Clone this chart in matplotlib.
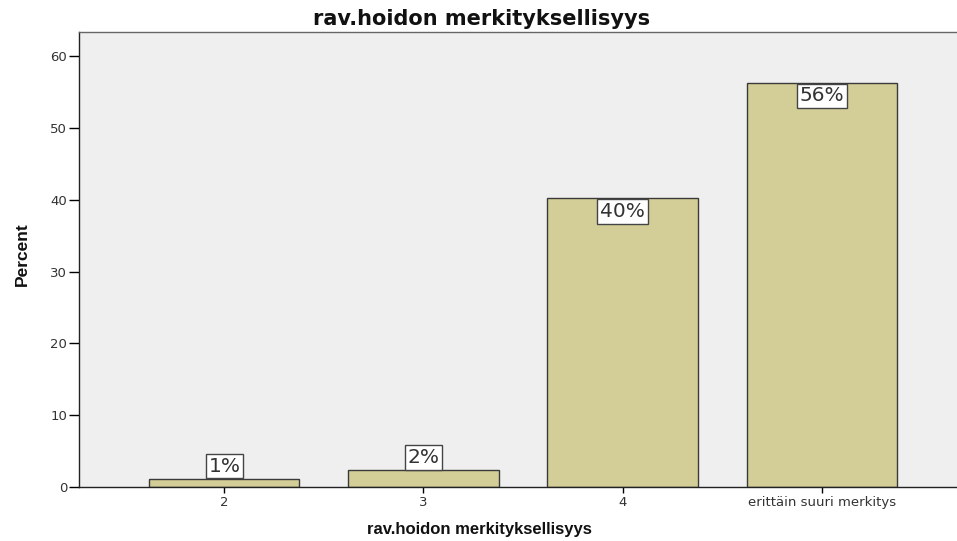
#!/usr/bin/env python3
import matplotlib

matplotlib.use("Agg")
import matplotlib.pyplot as plt
import numpy as np

CATEGORIES = ["2", "3", "4", "erittäin suuri merkitys"]
PERCENTS = [1.1, 2.3, 40.2, 56.3]
LABELS = ["1%", "2%", "40%", "56%"]

TITLE = "rav.hoidon merkityksellisyys"
X_LABEL = "rav.hoidon merkityksellisyys"
Y_LABEL = "Percent"

COLORS = {
    "bg": "#efefef",
    "bar": "#d3ce98",
    "bar_edge": "#3a3a3a",
    "text": "#333333",
}

plt.rcParams["font.family"] = ["Liberation Sans", "DejaVu Sans"]
WIDE = ["DejaVu Sans"]

W, H = 957, 541
fig = plt.figure(figsize=(W / 100, H / 100), dpi=100)
left, right, top, bottom = 79, 967, 32, 487
ax = fig.add_axes([left / W, (H - bottom) / H, (right - left) / W, (bottom - top) / H])
ax.set_facecolor(COLORS["bg"])

x = np.arange(len(CATEGORIES))
ax.bar(x, PERCENTS, width=0.754, color=COLORS["bar"], edgecolor=COLORS["bar_edge"], linewidth=1.0, zorder=2)

fs = 14.5
pad = 0.14
box = dict(boxstyle=f"square,pad={pad}", facecolor="white", edgecolor="#444444", linewidth=1.0)
for xi, val, lab in zip(x, PERCENTS, LABELS):
    above = val < 10
    off = pad * fs + 0.5
    ax.annotate(lab, (xi, val), xytext=(0, off if above else -off), textcoords="offset points",
                ha="center", va="bottom" if above else "top", fontsize=fs, color=COLORS["text"],
                family=WIDE, zorder=3, bbox=box)

ax.set_xlim(-0.73, len(CATEGORIES) - 1 + 0.73)
ax.set_ylim(0, 63.4)
ax.set_xticks(x)
ax.set_xticklabels(CATEGORIES, fontsize=9.5, color=COLORS["text"], family=WIDE)
ax.set_yticks(np.arange(0, 61, 10))
ax.set_yticklabels([str(v) for v in range(0, 61, 10)], fontsize=9.5, color=COLORS["text"], family=WIDE)
ax.tick_params(axis="y", length=7.5, width=1.0, pad=1)
ax.tick_params(axis="x", length=4.5, width=1.0, pad=2)

for side in ["left", "bottom"]:
    ax.spines[side].set_color("#222222")
    ax.spines[side].set_linewidth(1.0)
ax.spines["top"].set_color("#666666")
ax.spines["top"].set_linewidth(1.0)
ax.spines["right"].set_visible(False)

fig.text(482 / W, 1 - 25 / H, TITLE, ha="center", va="baseline", fontsize=15, fontweight="bold",
         color="#111111", family=WIDE)
fig.text(479 / W, 1 - 534 / H, X_LABEL, ha="center", va="baseline", fontsize=12, fontweight="bold",
         color="#111111")
fig.text(22 / W, 1 - 254 / H, Y_LABEL, ha="center", va="center", rotation=90, fontsize=12.5,
         fontweight="bold", color="#111111")

fig.savefig("out.png", dpi=100)
